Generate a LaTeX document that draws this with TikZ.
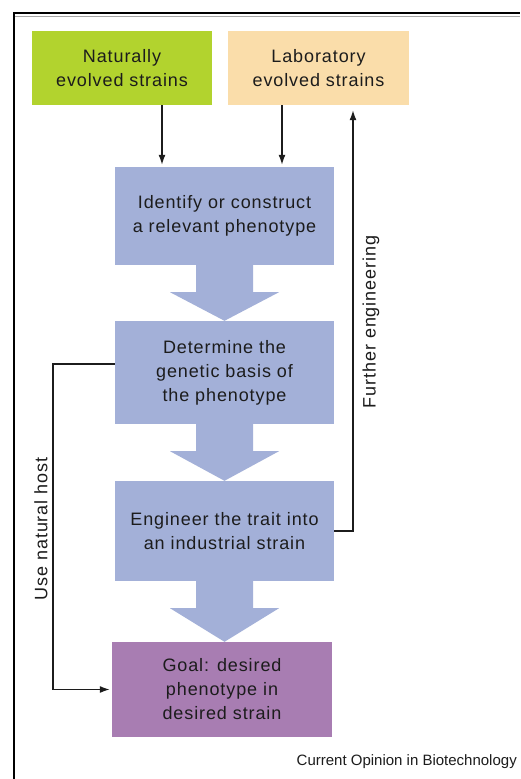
\documentclass[tikz,border=0pt]{standalone}
\usepackage{fontspec}
\setmainfont{Liberation Sans}[LetterSpace=5]
\newfontfamily\capfont{Liberation Sans}
\usetikzlibrary{arrows.meta,calc}

\definecolor{leafgreen}{RGB}{178,211,46}
\definecolor{sand}{RGB}{250,221,170}
\definecolor{stepblue}{RGB}{163,176,216}
\definecolor{goalpurple}{RGB}{168,125,178}
\definecolor{ink}{RGB}{28,28,28}

% wide block arrow from the bottom of one box to the top of the next
\newcommand\blockarrow[2]{%
  \fill[stepblue] ($(#1.south)+(-28.5,-1)$) -- ($(#1.south)+(-28.5,27)$)
    -- ($(#1.south)+(-54.5,27)$) -- (#1.south |- #2.north)
    -- ($(#1.south)+(54.5,27)$) -- ($(#1.south)+(28.5,27)$)
    -- ($(#1.south)+(28.5,-1)$) -- cycle;}

\begin{document}
\begin{tikzpicture}[x=1pt,y=-1pt,
  box/.style={rectangle, inner sep=0pt, align=center, text=ink,
    font=\fontsize{18}{24}\selectfont},
  stepbox/.style={box, fill=stepblue, minimum width=219pt},
  side/.style={text=ink, inner sep=0pt, font=\fontsize{18}{22}\selectfont},
  arr/.style={line width=1.4pt, draw=ink, -{Latex[length=10pt,width=7pt]}}]

\fill[white] (0,0) rectangle (520,779);
\useasboundingbox (0,0) rectangle (520,779);

% page frame
\draw[line width=2pt] (14,779) -- (14,13) -- (520,13);
\draw[gray!70, line width=1.5pt] (15,16.5) -- (520,16.5);

% boxes
\node[box, fill=leafgreen, minimum width=180pt, minimum height=74pt] (nat) at (122,68) {Naturally\\evolved strains};
\node[box, fill=sand, minimum width=181pt, minimum height=74pt] (lab) at (318.5,68) {Laboratory\\evolved strains};
\node[stepbox, minimum height=98pt] (ident) at (224.5,216) {Identify or construct\\a relevant phenotype};
\node[stepbox, minimum height=103pt] (genetic) at (224.5,372.5) {Determine the\\genetic basis of\\the phenotype};
\node[stepbox, minimum height=100pt] (engineer) at (224.5,531) {Engineer the trait into\\an industrial strain};
\node[box, fill=goalpurple, minimum width=220pt, minimum height=95pt] (goal) at (222,689.5) {Goal: desired\\phenotype in\\desired strain};

% block arrows between the steps
\blockarrow{ident}{genetic}
\blockarrow{genetic}{engineer}
\blockarrow{engineer}{goal}

% thin connectors
\draw[arr, shorten >=2pt] ([xshift=40pt]nat.south) -- ([xshift=40pt]nat.south |- ident.north);
\draw[arr, shorten >=2pt] ([xshift=-36.5pt]lab.south) -- ([xshift=-36.5pt]lab.south |- ident.north);
\draw[arr, shorten >=5pt] (engineer.east) -| ([xshift=34.5pt]lab.south);
\draw[arr, shorten >=2pt] ([yshift=8.5pt]genetic.west) -- ++(-62,0) |- (goal.west);

% connector labels
\node[side, rotate=90] (further) at (371,322) {Further engineering};
\node[side, rotate=90] (host) at (41,529) {Use natural host};

% source line
\node[anchor=base east, inner sep=0pt, text=ink, font=\capfont\fontsize{15}{18}\selectfont] (credit) at (517,765) {Current Opinion in Biotechnology};
\end{tikzpicture}
\end{document}
